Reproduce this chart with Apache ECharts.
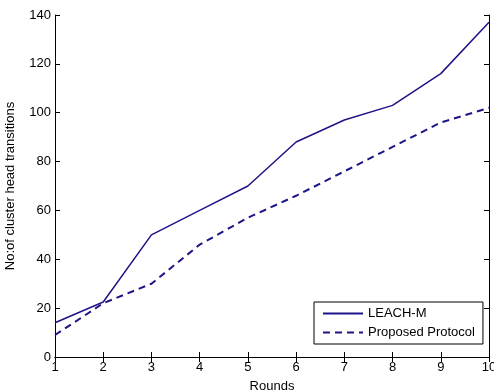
<!DOCTYPE html>
<html>
<head>
<meta charset="utf-8">
<script src="https://cdn.jsdelivr.net/npm/echarts@6/dist/echarts.min.js"></script>
<style>
  html, body { margin: 0; padding: 0; background: #fff; }
  #main { width: 494px; height: 392px; }
</style>
</head>
<body>
<div id="main"></div>
<script>
// data
var rounds = [1, 2, 3, 4, 5, 6, 7, 8, 9, 10];
var leachM = [14, 22.5, 50, 60, 70, 88, 97, 103, 116, 137];
var proposed = [9, 22, 30, 46, 57, 66, 76, 86, 96, 102];
var yTicks = [0, 20, 40, 60, 80, 100, 120, 140];

var lineColor = '#1e1488';
var font = 'Liberation Sans, Arial, sans-serif';

function pairs(ys) {
    return rounds.map(function (x, i) { return [x, ys[i]]; });
}

var myChart = echarts.init(document.getElementById('main'));

var axisLine = { show: true, lineStyle: { color: '#000', width: 1 } };
var tickIn = { show: true, inside: true, length: 5, lineStyle: { color: '#000' } };

myChart.setOption({
    animation: false,
    backgroundColor: '#fff',
    grid: { left: 55, right: 5, top: 15, bottom: 35, outerBoundsMode: 'none', containLabel: false },
    legend: {
        left: 314,
        top: 302,
        orient: 'vertical',
        itemWidth: 40,
        itemHeight: 10,
        itemGap: 6,
        padding: [5, 8, 5, 8],
        borderColor: '#000',
        borderWidth: 1,
        borderRadius: 0,
        backgroundColor: '#fff',
        itemStyle: { opacity: 0 },
        textStyle: { fontFamily: font, fontSize: 13, color: '#000' },
        data: ['LEACH-M', 'Proposed Protocol']
    },
    xAxis: [
        {
            type: 'value', min: 1, max: 10, interval: 1,
            name: 'Rounds', nameLocation: 'middle', nameGap: 23,
            nameTextStyle: { fontFamily: font, fontSize: 13, color: '#000' },
            axisLine: axisLine, axisTick: tickIn,
            axisLabel: { fontFamily: font, fontSize: 13, color: '#000', margin: 4 },
            splitLine: { show: false }
        },
        {
            type: 'value', position: 'top', min: 1, max: 10, interval: 1,
            axisLine: axisLine, axisTick: tickIn,
            axisLabel: { show: false }, splitLine: { show: false }
        }
    ],
    yAxis: [
        {
            type: 'value', min: yTicks[0], max: yTicks[yTicks.length - 1], interval: 20,
            name: 'No:of cluster head transitions', nameLocation: 'middle', nameGap: 38,
            nameTextStyle: { fontFamily: font, fontSize: 13, color: '#000' },
            axisLine: axisLine, axisTick: tickIn,
            axisLabel: { fontFamily: font, fontSize: 13, color: '#000', margin: 4 },
            splitLine: { show: false }
        },
        {
            type: 'value', position: 'right', min: yTicks[0], max: yTicks[yTicks.length - 1], interval: 20,
            axisLine: axisLine, axisTick: tickIn,
            axisLabel: { show: false }, splitLine: { show: false }
        }
    ],
    series: [
        {
            name: 'LEACH-M',
            type: 'line',
            data: pairs(leachM),
            symbol: 'none',
            lineStyle: { color: lineColor, width: 1.5, type: 'solid' },
            itemStyle: { color: lineColor }
        },
        {
            name: 'Proposed Protocol',
            type: 'line',
            data: pairs(proposed),
            symbol: 'none',
            lineStyle: { color: lineColor, width: 2, type: [7, 5] },
            itemStyle: { color: lineColor }
        }
    ]
});
</script>
</body>
</html>
